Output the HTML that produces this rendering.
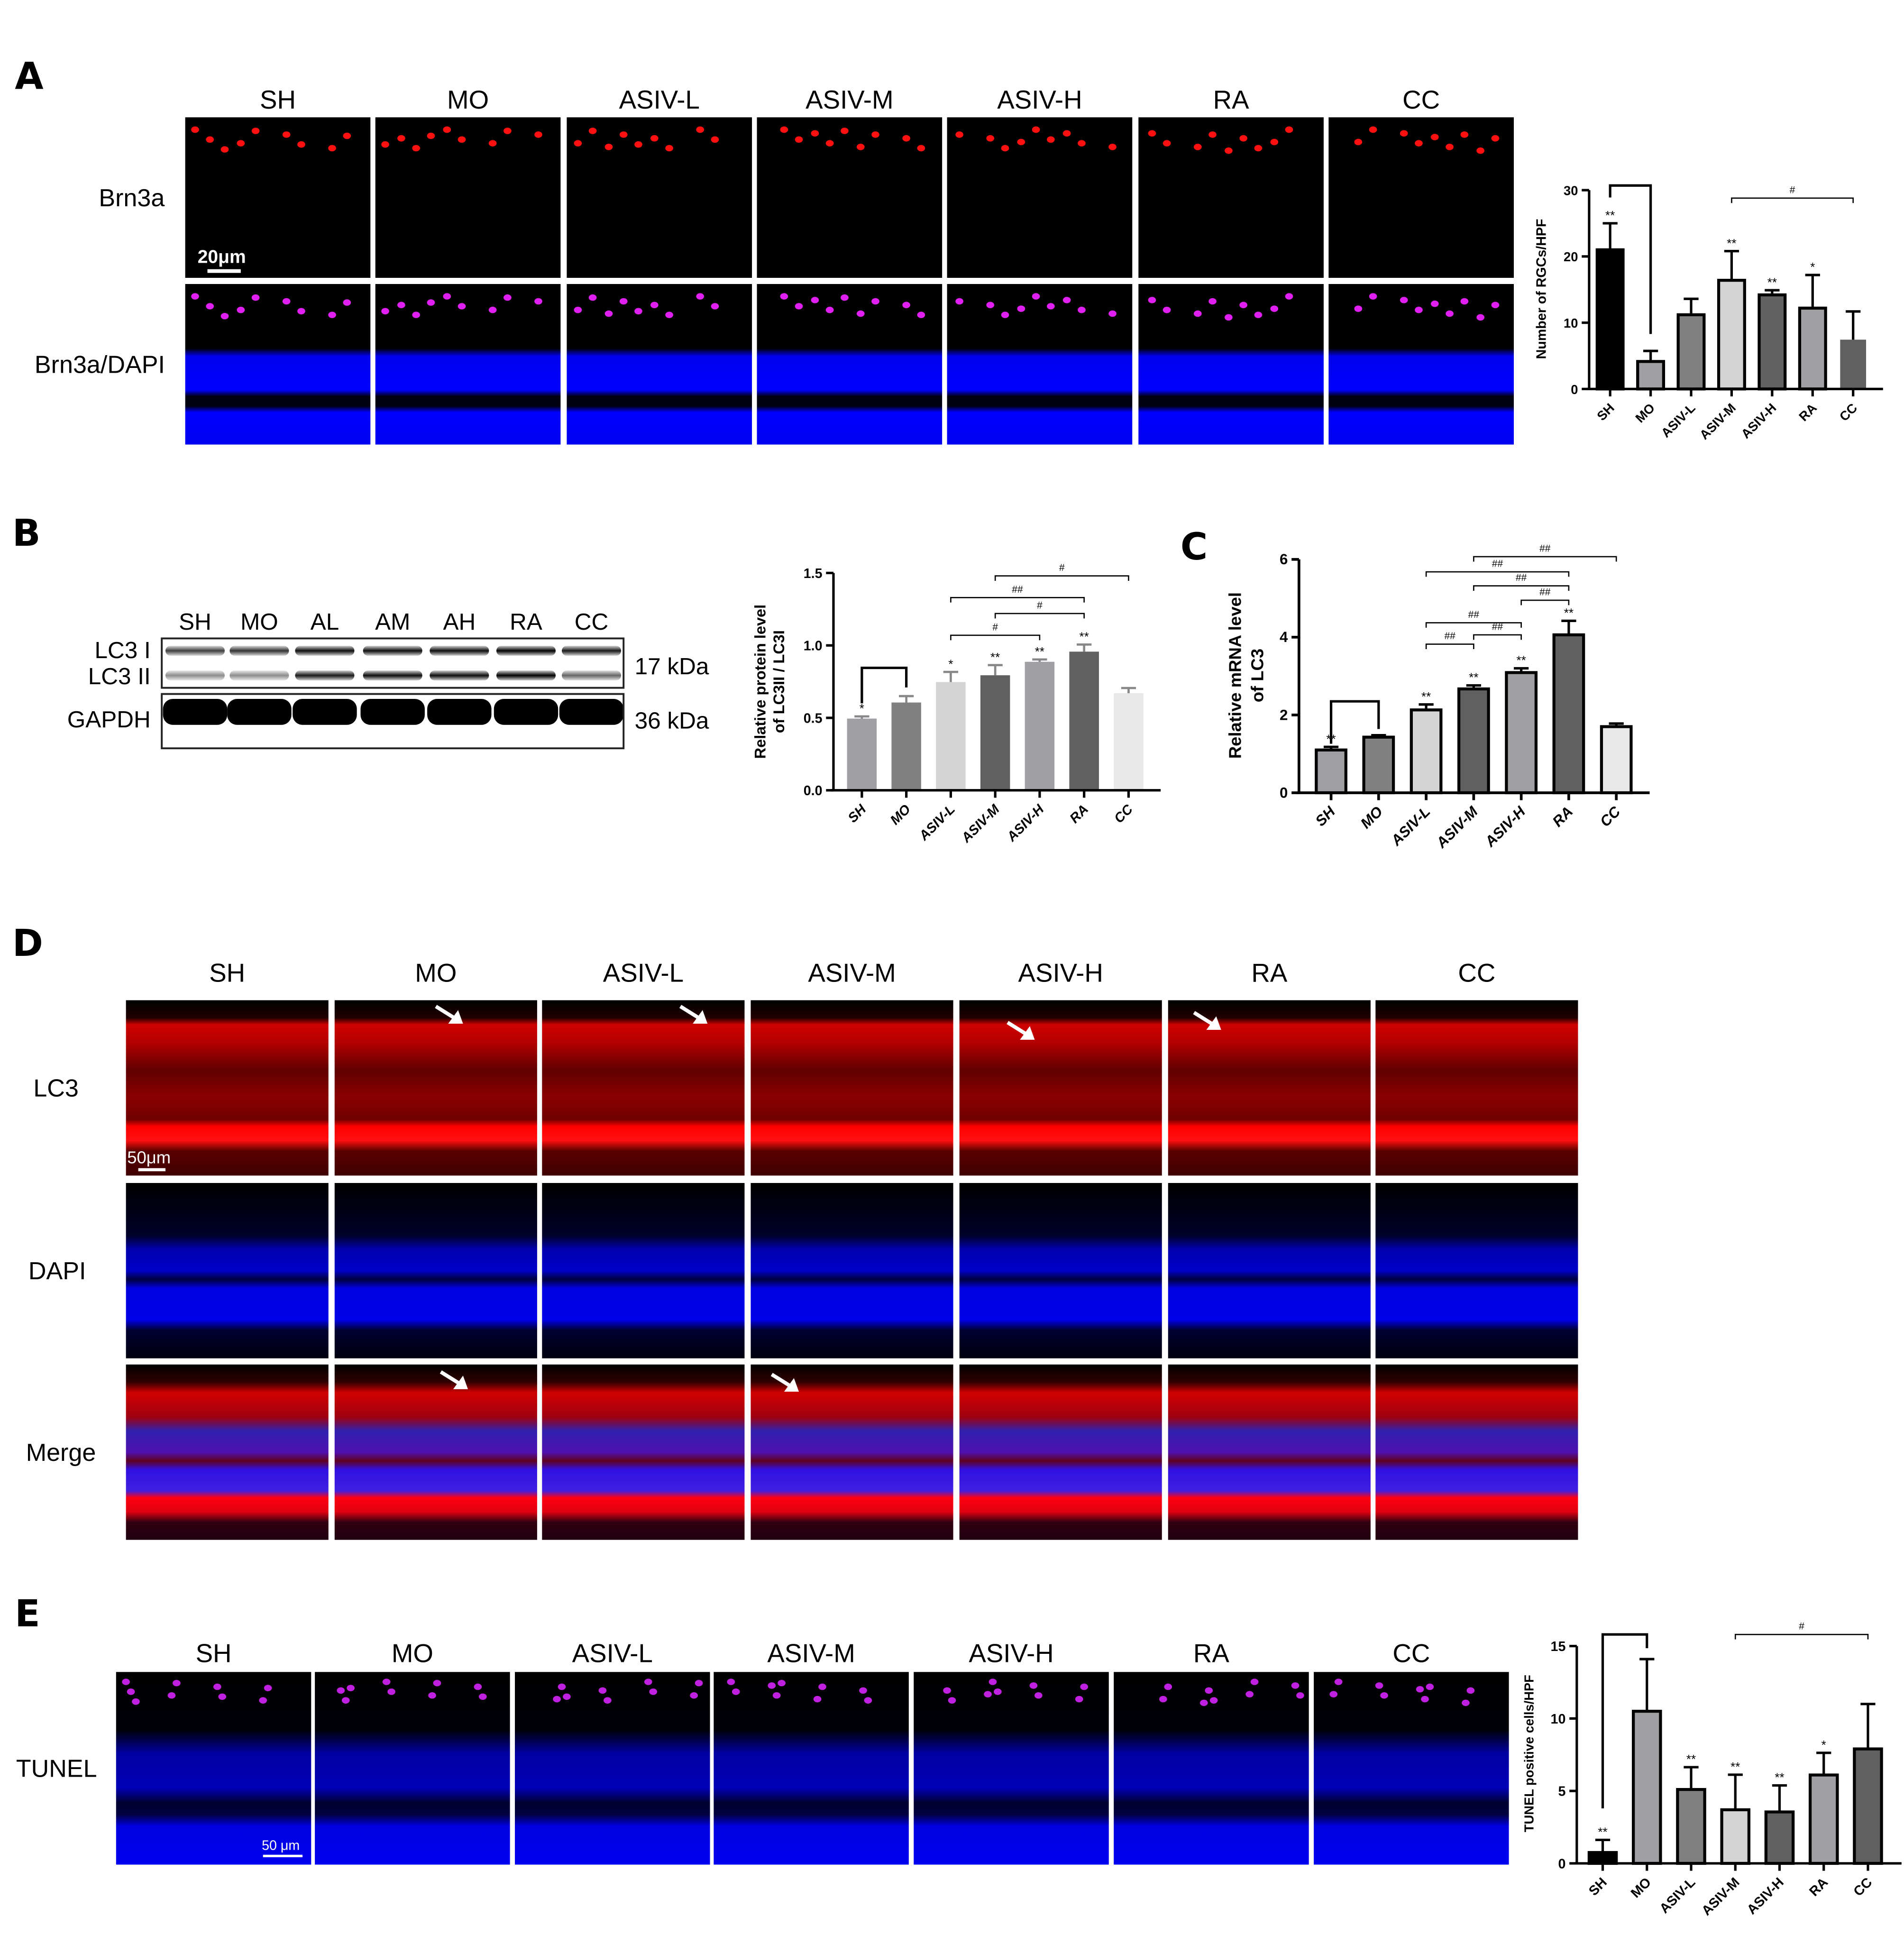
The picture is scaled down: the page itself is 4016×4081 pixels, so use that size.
<!DOCTYPE html>
<html><head><meta charset="utf-8">
<style>
html,body{margin:0;padding:0;background:#fff;}
svg{display:block;font-family:"Liberation Sans",Arial,sans-serif;}
</style></head>
<body>
<svg id="fig" width="4016" height="4081" viewBox="0 0 1542 1567" preserveAspectRatio="none" xmlns="http://www.w3.org/2000/svg">
<defs>
<linearGradient id="gA2" x1="0" y1="0" x2="0" y2="1">
<stop offset="0" stop-color="#000"/><stop offset="0.4" stop-color="#000"/><stop offset="0.45" stop-color="#0000ee"/><stop offset="0.66" stop-color="#0000ff"/><stop offset="0.7" stop-color="#000010"/><stop offset="0.76" stop-color="#000010"/><stop offset="0.8" stop-color="#0000ff"/><stop offset="1" stop-color="#0000f0"/>
</linearGradient>
<linearGradient id="gLC3" x1="0" y1="0" x2="0" y2="1">
<stop offset="0" stop-color="#000"/><stop offset="0.1" stop-color="#200000"/><stop offset="0.14" stop-color="#d00000"/><stop offset="0.25" stop-color="#b00000"/><stop offset="0.4" stop-color="#600000"/><stop offset="0.55" stop-color="#8a0000"/><stop offset="0.68" stop-color="#700000"/><stop offset="0.72" stop-color="#ff0000"/><stop offset="0.8" stop-color="#ff1010"/><stop offset="0.86" stop-color="#5a0000"/><stop offset="1" stop-color="#400000"/>
</linearGradient>
<linearGradient id="gDAPI" x1="0" y1="0" x2="0" y2="1">
<stop offset="0" stop-color="#000"/><stop offset="0.3" stop-color="#00002a"/><stop offset="0.38" stop-color="#0000b0"/><stop offset="0.5" stop-color="#0000c8"/><stop offset="0.55" stop-color="#000040"/><stop offset="0.6" stop-color="#0000e0"/><stop offset="0.78" stop-color="#0000e8"/><stop offset="0.84" stop-color="#000030"/><stop offset="1" stop-color="#000010"/>
</linearGradient>
<linearGradient id="gMerge" x1="0" y1="0" x2="0" y2="1">
<stop offset="0" stop-color="#000"/><stop offset="0.1" stop-color="#300000"/><stop offset="0.16" stop-color="#d00000"/><stop offset="0.3" stop-color="#a00010"/><stop offset="0.38" stop-color="#3020b0"/><stop offset="0.5" stop-color="#5010b0"/><stop offset="0.55" stop-color="#600020"/><stop offset="0.6" stop-color="#3010e0"/><stop offset="0.72" stop-color="#4020e0"/><stop offset="0.76" stop-color="#ff0010"/><stop offset="0.84" stop-color="#e00010"/><stop offset="0.9" stop-color="#300010"/><stop offset="1" stop-color="#200010"/>
</linearGradient>
<linearGradient id="gE" x1="0" y1="0" x2="0" y2="1">
<stop offset="0" stop-color="#000"/><stop offset="0.3" stop-color="#000008"/><stop offset="0.42" stop-color="#0000a0"/><stop offset="0.6" stop-color="#0000b8"/><stop offset="0.68" stop-color="#000030"/><stop offset="0.74" stop-color="#000040"/><stop offset="0.8" stop-color="#0000e0"/><stop offset="1" stop-color="#0000f0"/>
</linearGradient>
<linearGradient id="gBand" x1="0" y1="0" x2="0" y2="1">
<stop offset="0" stop-color="#000" stop-opacity="0.2"/><stop offset="0.5" stop-color="#000"/><stop offset="1" stop-color="#000" stop-opacity="0.2"/>
</linearGradient>
</defs>
<g id="root"></g>
</svg>
<script>
// ---------- Chart A data ----------
const catsA = ["SH","MO","ASIV-L","ASIV-M","ASIV-H","RA","CC"];
const valsA = [21.0, 4.15, 11.2, 16.4, 14.2, 12.2, 7.44];
const errsA = [25.0, 5.74, 13.6, 20.8, 14.9, 17.2, 11.7];
const starsA = ["**","","","**","**","*",""];
const ticksA = [0,10,20,30];
const tickLabelsA = ["0","10","20","30"];
// ---------- Chart B data ----------
const catsB = ["SH","MO","ASIV-L","ASIV-M","ASIV-H","RA","CC"];
const valsB = [0.495, 0.606, 0.747, 0.794, 0.887, 0.957, 0.67];
const errsB = [0.51, 0.65, 0.817, 0.864, 0.903, 1.006, 0.706];
const starsB = ["*","","*","**","**","**",""];
const ticksB = [0,0.5,1.0,1.5];
const tickLabelsB = ["0.0","0.5","1.0","1.5"];
// ---------- Chart C data ----------
const catsC = ["SH","MO","ASIV-L","ASIV-M","ASIV-H","RA","CC"];
const valsC = [1.10, 1.43, 2.13, 2.67, 3.09, 4.06, 1.70];
const errsC = [1.18, 1.48, 2.27, 2.76, 3.20, 4.42, 1.78];
const starsC = ["**","","**","**","**","**",""];
const ticksC = [0,2,4,6];
const tickLabelsC = ["0","2","4","6"];
// ---------- Chart E data ----------
const catsE = ["SH","MO","ASIV-L","ASIV-M","ASIV-H","RA","CC"];
const valsE = [0.75, 10.5, 5.1, 3.7, 3.55, 6.1, 7.9];
const errsE = [1.62, 14.1, 6.64, 6.12, 5.38, 7.63, 11.0];
const starsE = ["**","","**","**","**","*",""];
const ticksE = [0,5,10,15];
const tickLabelsE = ["0","5","10","15"];
// significance brackets: [i, j, level, label]
const bracketsA = [[3,6,28.8,"#"]];
const bracketsB = [[2,4,1.07,"#"],[3,5,1.22,"#"],[2,5,1.33,"##"],[3,6,1.48,"#"]];
const bracketsC = [[2,3,3.82,"##"],[3,4,4.06,"##"],[2,4,4.37,"##"],[4,5,4.95,"##"],[3,5,5.32,"##"],[2,5,5.68,"##"],[3,6,6.07,"##"]];
const bracketsE = [[3,6,15.8,"#"]];
// control bracket SH-MO: [top, leftEnd, rightEnd]
const ctrlA = [30.7, 28.9, 8.3];
const ctrlB = [0.845, 0.60, 0.71];
const ctrlC = [2.35, 1.26, 1.64];
const ctrlE = [15.8, 3.8, 14.85];

const NS="http://www.w3.org/2000/svg";
const root=document.getElementById('root');
function mk(tag,attrs,parent){const e=document.createElementNS(NS,tag);for(const k in attrs)e.setAttribute(k,attrs[k]);(parent||root).appendChild(e);return e;}
function txt(s,attrs,parent){const e=mk('text',attrs,parent);e.textContent=s;return e;}

[["A",12,72],["B",10,442],["C",956,453],["D",10,774],["E",12,1317]].forEach(p=>{
  const t=txt(p[0],{x:p[1],y:p[2],'font-size':30,'font-weight':'bold','font-family':'"DejaVu Sans",sans-serif'});
  
  
});

function micro(prefix,xs,w,rows,headers,headerY,rowLabels){
  headers.forEach((h,i)=>{
    const t=txt(h,{x:xs[i]+w/2,y:headerY,'font-size':21,'text-anchor':'middle'});
    
    
  });
  rows.forEach((r,ri)=>{
    const l=txt(rowLabels[ri][0],{x:rowLabels[ri][1],y:r[0]+r[1]/2+7,'font-size':20,'text-anchor':rowLabels[ri][2]||'start'});
    
    
    xs.forEach((x,ci)=>{
      const g=mk('g',{});
      
      
      mk('rect',{x:x,y:r[0],width:w,height:r[1],fill:r[2]},g);
      if(r[3]){
        for(let k=0;k<9;k++){
          const cx=x+8+((k*37+ci*13)%(w-14));
          const cy=r[0]+r[3]+((k*11+ci*7)%18);
          mk('ellipse',{cx:cx,cy:cy,rx:3.2,ry:2.6,fill:r[4]},g);
        }
      }
    });
  });
}
const xsA=[150,304,459,613,767,922,1076];
micro('panel-a',xsA,150,[[95,130,'#000',10,'#ff1010'],[230,130,'url(#gA2)',10,'#e020f0']],
  ["SH","MO","ASIV-L","ASIV-M","ASIV-H","RA","CC"],88,[["Brn3a",80],["Brn3a/DAPI",28]]);
txt("20μm",{x:160,y:213,'font-size':15,fill:'#fff','font-weight':'bold'});
mk('rect',{x:168,y:218,width:27,height:3,fill:'#fff'});
const xsD=[102,271,439,608,777,946,1114];
micro('panel-d',xsD,164,[[810,142,'url(#gLC3)'],[958,142,'url(#gDAPI)'],[1105,142,'url(#gMerge)']],
  ["SH","MO","ASIV-L","ASIV-M","ASIV-H","RA","CC"],795,[["LC3",27],["DAPI",23],["Merge",21]]);
txt("50μm",{x:103,y:942,'font-size':14,fill:'#fff'});
mk('rect',{x:112,y:946,width:22,height:2.5,fill:'#fff'});
[[353,815],[551,815],[816,828],[967,820],[357,1111],[625,1113]].forEach(a=>{
  const g=mk('g',{});
  
  
  mk('line',{x1:a[0],y1:a[1],x2:a[0]+16,y2:a[1]+10,stroke:'#fff','stroke-width':3},g);
  mk('polygon',{points:`${a[0]+22},${a[1]+14} ${a[0]+10},${a[1]+14} ${a[0]+18},${a[1]+3}`,fill:'#fff'},g);
});
const xsE=[94,255,417,578,740,902,1064];
micro('panel-e',xsE,158,[[1354,156,'url(#gE)',8,'#c020e0']],
  ["SH","MO","ASIV-L","ASIV-M","ASIV-H","RA","CC"],1346,[["TUNEL",13]]);
txt("50 μm",{x:212,y:1498,'font-size':11,fill:'#fff'});
mk('rect',{x:213,y:1502,width:32,height:2,fill:'#fff'});

(function(){
  const g=mk('g',{});
  
  
  const lanes=["SH","MO","AL","AM","AH","RA","CC"];
  const lx=[158,210,263,318,372,426,479];
  const i1=[0.75,0.8,0.95,0.95,0.95,1,0.9];
  const i2=[0.45,0.45,0.9,0.95,0.95,1,0.6];
  lanes.forEach((l,i)=>{
    const t=txt(l,{x:lx[i],y:510,'font-size':19,'text-anchor':'middle'},g);
    
    
    mk('rect',{x:lx[i]-24,y:523,width:48,height:8,rx:4,fill:'url(#gBand)',opacity:i1[i]},g);
    mk('rect',{x:lx[i]-24,y:543,width:48,height:8,rx:4,fill:'url(#gBand)',opacity:i2[i]},g);
    mk('rect',{x:lx[i]-26,y:566,width:52,height:21,rx:8,fill:'#000'},g);
  });
  mk('rect',{x:131,y:517,width:374,height:40,fill:'none',stroke:'#222','stroke-width':1.5},g);
  mk('rect',{x:131,y:562,width:374,height:44,fill:'none',stroke:'#222','stroke-width':1.5},g);
  txt("LC3 I",{x:122,y:533,'font-size':19,'text-anchor':'end'},g);
  txt("LC3 II",{x:122,y:554,'font-size':19,'text-anchor':'end'},g);
  txt("GAPDH",{x:122,y:589,'font-size':19,'text-anchor':'end'},g);
  txt("17 kDa",{x:514,y:546,'font-size':19},g);
  txt("36 kDa",{x:514,y:590,'font-size':19},g);
})();

function barChart(name,cfg,cats,vals,errs,stars,ticks,tickLabels,brackets,ctrl,colors){
  const g=mk('g',{});
  
  
  const Y=v=>cfg.y0-(v/cfg.max)*(cfg.y0-cfg.yTop);
  const X=i=>cfg.x1+i*cfg.step;
  const lw=cfg.lw;
  const ya=mk('line',{x1:cfg.x0,y1:cfg.y0,x2:cfg.x0,y2:Y(ticks[ticks.length-1]),stroke:'#000','stroke-width':lw},g);
  
  
  ticks.forEach((t,i)=>{
    mk('line',{x1:cfg.x0-6,y1:Y(t),x2:cfg.x0,y2:Y(t),stroke:'#000','stroke-width':lw},g);
    const tl=txt(tickLabels[i],{x:cfg.x0-9,y:Y(t)+4,'font-size':cfg.fs,'font-weight':'bold','text-anchor':'end'},g);
    
    
  });
  cats.forEach((c,i)=>{
    const x=X(i),top=Y(vals[i]);
    const b=mk('rect',{x:x-cfg.bw/2,y:top,width:cfg.bw,height:cfg.y0-top,fill:colors[i],
      stroke:cfg.border&&!(cfg.noBorderLast&&i===cats.length-1)?'#000':'none','stroke-width':cfg.border?2.4:0},g);
    
    
    const ec=cfg.errColor||'#000';
    const e=mk('path',{d:`M${x},${top}V${Y(errs[i])}M${x-6},${Y(errs[i])}H${x+6}`,stroke:ec,'stroke-width':cfg.border?2:1.8,fill:'none'},g);
    
    
    if(stars[i]){
      const s=txt(stars[i],{x:x,y:Y(errs[i])+cfg.starDy,'font-size':cfg.starFs,'text-anchor':'middle'},g);
      
      
    }
    mk('line',{x1:x,y1:cfg.y0,x2:x,y2:cfg.y0+6,stroke:'#000','stroke-width':lw},g);
    const tl=txt(c,{x:x+4,y:cfg.y0+16,'font-size':cfg.fs,'font-weight':'bold','text-anchor':'end',
      transform:`rotate(-45 ${x+4} ${cfg.y0+16})`,'font-style':cfg.italic?'italic':'normal'},g);
    
    
  });
  const xa=mk('line',{x1:cfg.x0-2,y1:cfg.y0,x2:cfg.xEnd,y2:cfg.y0,stroke:'#000','stroke-width':lw},g);
  
  
  const cb=mk('path',{d:`M${X(0)},${Y(ctrl[1])}V${Y(ctrl[0])}H${X(1)}V${Y(ctrl[2])}`,stroke:'#000','stroke-width':2,fill:'none'},g);
  
  
  brackets.forEach(b=>{
    const y=Y(b[2]);
    const p=mk('path',{d:`M${X(b[0])},${y+4}V${y}H${X(b[1])}V${y+4}`,stroke:'#000','stroke-width':1,fill:'none'},g);
    
    
    const t=txt(b[3],{x:(X(b[0])+X(b[1]))/2,y:y-4,'font-size':8,'text-anchor':'middle'},g);
    
    
  });
  cfg.ylab.forEach((l,k)=>{
    const t=txt(l,{x:cfg.ylx+k*cfg.lgap,y:cfg.yly,'font-size':cfg.lfs,'font-weight':'bold','text-anchor':'middle',
      transform:`rotate(-90 ${cfg.ylx+k*cfg.lgap} ${cfg.yly})`},g);
    
    
  });
}
const colsMain=['#000','#a0a0a4','#808080','#d4d4d4','#606060','#a0a0a4','#606060'];
const colsBC=['#a0a0a4','#808080','#d4d4d4','#606060','#a0a0a4','#606060','#e8e8e8'];
barChart('chart-a-rgc-count',{x0:1287,y0:315,yTop:154,max:30,x1:1304,step:32.8,bw:21,xEnd:1525,border:true,noBorderLast:true,lw:2,fs:10.5,
  starDy:-3,starFs:10,ylab:["Number of RGCs/HPF"],ylx:1252,yly:234,lgap:0,lfs:11},catsA,valsA,errsA,starsA,ticksA,tickLabelsA,bracketsA,ctrlA,colsMain);
barChart('chart-b-protein',{x0:675,y0:640,yTop:464,max:1.5,x1:698,step:36,bw:24,xEnd:940,border:false,lw:2,fs:11,errColor:'#888',italic:true,
  starDy:-3,starFs:10,ylab:["Relative protein level","of LC3II / LC3I"],ylx:620,yly:552,lgap:15,lfs:12.5},catsB,valsB,errsB,starsB,ticksB,tickLabelsB,bracketsB,ctrlB,colsBC);
barChart('chart-c-mrna',{x0:1052,y0:642,yTop:453,max:6,x1:1078,step:38.5,bw:24,xEnd:1336,border:true,lw:2.2,fs:12,italic:true,
  starDy:-3,starFs:10,ylab:["Relative mRNA level","of LC3"],ylx:1005,yly:547,lgap:18,lfs:14},catsC,valsC,errsC,starsC,ticksC,tickLabelsC,bracketsC,ctrlC,colsBC);
barChart('chart-e-tunel',{x0:1277,y0:1509,yTop:1333,max:15,x1:1298,step:35.8,bw:22,xEnd:1540,border:true,lw:2,fs:11,
  starDy:-3,starFs:10,ylab:["TUNEL positive cells/HPF"],ylx:1242,yly:1420,lgap:0,lfs:10.5},catsE,valsE,errsE,starsE,ticksE,tickLabelsE,bracketsE,ctrlE,colsMain);
</script>
</body></html>
